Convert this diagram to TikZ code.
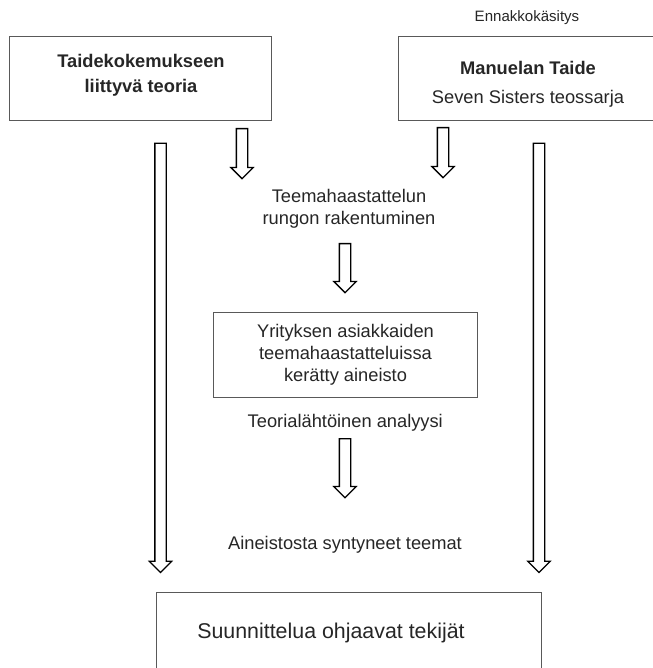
\documentclass[tikz,border=0pt]{standalone}
\usepackage{fontspec}
\setmainfont{Liberation Sans}
\usepackage{tikz}
\usetikzlibrary{positioning,shapes,shapes.arrows}

\begin{document}
\begin{tikzpicture}[x=0.025cm,y=0.025cm]
\tikzstyle{every node}+=[inner sep=0pt, text=black!85]
\tikzstyle{box}=[draw=black!65, line width=0.7pt, rectangle]
\tikzstyle{txt}=[align=center, font=\fontsize{13}{15.6}\selectfont]
\tikzstyle{hollow}=[draw=black, line width=0.9pt, single arrow, single arrow head extend=0.1375cm, inner xsep=0pt, inner ysep=0.125cm, rotate=-90, anchor=tail]
\useasboundingbox (0,0) rectangle (652,-668);
\node [font=\fontsize{10.7}{12.8}\selectfont] (pre) at (527,-18) {Ennakkokäsitys};
\node [box, minimum width=6.525cm, minimum height=2.075cm] (theory) at (140.5,-78.5) {};
\node [txt, font=\fontsize{13}{17.8}\selectfont\bfseries] (theorytxt) at (141,-75.5) {Taidekokemukseen\\liittyvä teoria};
\node [box, minimum width=6.525cm, minimum height=2.075cm] (art) at (529.5,-78.5) {};
\node [txt, font=\fontsize{13}{20.5}\selectfont] (arttxt) at (528,-84) {\textbf{Manuelan Taide}\\Seven Sisters teossarja};
\node [hollow, minimum height=1.25cm] (a1) at (242,-128) {};
\node [hollow, minimum height=1.25cm] (a2) at (443,-127) {};
\node [hollow, minimum height=10.725cm] (long1) at (160.5,-142.7) {};
\node [hollow, minimum height=10.725cm] (long2) at (539,-142.7) {};
\node [txt] (frame) at (349,-209) {Teemahaastattelun\\rungon rakentuminen};
\node [hollow, minimum height=1.225cm] (a3) at (345,-243) {};
\node [box, minimum width=6.575cm, minimum height=2.1cm] (data) at (345.5,-355) {};
\node [txt] (datatxt) at (345.5,-355) {Yrityksen asiakkaiden\\teemahaastatteluissa\\kerätty aineisto};
\node [txt] (analysis) at (345.3,-422.7) {Teorialähtöinen analyysi};
\node [hollow, minimum height=1.475cm] (a4) at (345,-438) {};
\node [txt] (themes) at (345,-545) {Aineistosta syntyneet teemat};
\node [box, minimum width=9.6cm, minimum height=2.7cm] (factors) at (349,-646) {};
\node [font=\fontsize{15.2}{18}\selectfont] (factorstxt) at (331,-633) {Suunnittelua ohjaavat tekijät};
\end{tikzpicture}
\end{document}
